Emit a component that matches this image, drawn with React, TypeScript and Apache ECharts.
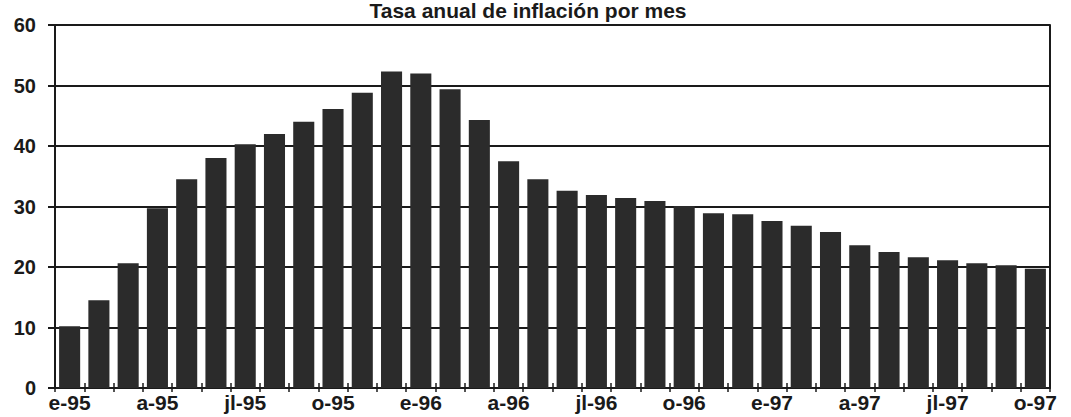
import React, { useEffect, useRef } from "react";
import * as echarts from "echarts";

const months: string[] = [
  "e-95","f-95","m-95","a-95","my-95","jn-95","jl-95","ag-95","s-95","o-95","n-95","d-95",
  "e-96","f-96","m-96","a-96","my-96","jn-96","jl-96","ag-96","s-96","o-96","n-96","d-96",
  "e-97","f-97","m-97","a-97","my-97","jn-97","jl-97","ag-97","s-97","o-97",
];
const inflation: number[] = [
  10.2, 14.5, 20.6, 29.7, 34.5, 38.0, 40.3, 42.0, 44.0, 46.1, 48.8, 52.3,
  52.0, 49.4, 44.3, 37.5, 34.5, 32.6, 31.9, 31.4, 30.9, 30.1, 28.9, 28.7,
  27.6, 26.8, 25.8, 23.6, 22.5, 21.6, 21.1, 20.6, 20.3, 19.7,
];
const yTicks: number[] = [0, 10, 20, 30, 40, 50, 60];
const titleText = "Tasa anual de inflación por mes";

const FONT = "'Liberation Sans', Arial, sans-serif";
const INK = "#1a1a1a";

export default function App() {
  const ref = useRef<HTMLDivElement>(null);
  useEffect(() => {
    if (!ref.current) return;
    const chart = echarts.init(ref.current, undefined, { renderer: "svg" });
    chart.setOption({
      animation: false,
      backgroundColor: "#ffffff",
      title: {
        text: titleText,
        left: 528,
        textAlign: "center",
        top: 0,
        padding: 0,
        textStyle: { fontFamily: FONT, fontWeight: "bold", fontSize: 21, color: INK, lineHeight: 21 },
      },
      grid: { left: 55, right: 21, top: 25, bottom: 29, containLabel: false },
      xAxis: [
        {
          type: "category",
          data: months,
          axisLine: { lineStyle: { color: INK, width: 2 } },
          axisTick: { show: true, length: 4, interval: 0, lineStyle: { color: INK, width: 1.5 } },
          axisLabel: {
            interval: 2,
            margin: 4,
            fontFamily: FONT,
            fontWeight: "bold",
            fontSize: 21,
            color: INK,
          },
        },
        {
          type: "category",
          data: months,
          position: "bottom",
          axisLine: { show: false },
          axisTick: { show: true, inside: true, length: 5, interval: 0, lineStyle: { color: INK, width: 1.5 } },
          axisLabel: { show: false },
        },
      ],
      yAxis: [
        {
          type: "value",
          min: 0,
          max: 60,
          interval: 10,
          axisLine: { show: true, lineStyle: { color: INK, width: 2 } },
          axisTick: { show: true, length: 7, lineStyle: { color: INK, width: 2 } },
          splitLine: { show: true, lineStyle: { color: INK, width: 2 } },
          axisLabel: {
            margin: 19,
            fontFamily: FONT,
            fontWeight: "bold",
            fontSize: 20,
            color: INK,
            padding: [0, 0, 11, 0],
            formatter: (v: number) => (yTicks.includes(v) ? String(v) : ""),
          },
        },
        {
          type: "value",
          min: 0,
          max: 60,
          interval: 10,
          position: "right",
          axisLine: { show: true, lineStyle: { color: INK, width: 2 } },
          axisTick: { show: false },
          splitLine: { show: false },
          axisLabel: { show: false },
        },
      ],
      series: [
        {
          type: "bar",
          data: inflation,
          xAxisIndex: 0,
          yAxisIndex: 0,
          barCategoryGap: "28%",
          itemStyle: { color: "#2b2b2b" },
        },
      ],
    });
    return () => chart.dispose();
  }, []);
  return <div ref={ref} style={{ width: 1071, height: 417, position: "absolute", left: 0, top: 0 }} />;
}
